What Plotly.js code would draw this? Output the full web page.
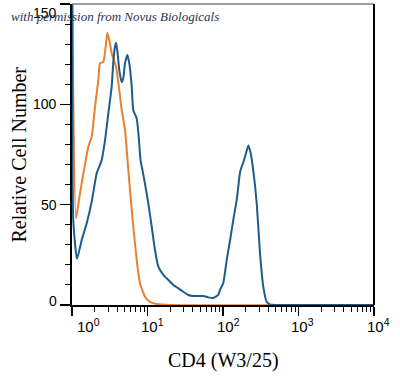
<!DOCTYPE html>
<html>
<head>
<meta charset="utf-8">
<script src="https://cdn.plot.ly/plotly-3.0.1.min.js"></script>
<style>html,body{margin:0;padding:0;background:#fff;}#chart{width:400px;height:376px;}</style>
</head>
<body>
<div id="chart"></div>
<script>
// CD4 (W3/25) fluorescence, stained sample (blue)
const blueX = [1.01, 1.04, 1.165, 1.345, 1.566, 1.824, 2.124, 2.473, 2.735, 3.027, 3.355, 3.524, 3.71, 3.827, 3.98, 4.232, 4.55, 4.778, 5.035, 5.4, 5.74, 6.18, 6.486, 7.194, 7.6, 8.1, 8.6, 9.3, 10.25, 11.37, 12.57, 13.9, 16.2, 18.86, 21.97, 25.6, 29.8, 34.7, 40.4, 54.8, 63.9, 74.4, 86.6, 91.2, 100.9, 111.9, 123.8, 136.8, 151.8, 168, 177, 185.7, 201.7, 216.4, 232.8, 251.9, 279.2, 309, 342, 379, 419.4, 1000, 10000];
const blueY = [150, 42, 23, 32.4, 40.7, 51.5, 65.6, 72.2, 82, 95.5, 108.8, 121, 128.7, 130.7, 127, 117, 111, 113, 120.4, 124.6, 120.4, 108.8, 97, 93, 85, 72, 67, 60, 50.7, 39, 27.4, 19.1, 15, 12.5, 10, 8.3, 6.6, 5, 4.5, 4.5, 3.8, 3.5, 5, 7.5, 11, 22.4, 32, 42.4, 52.3, 66, 69, 71, 75.6, 79.5, 75.6, 67, 51, 26, 9, 1.6, 0.3, 0, 0];
// isotype control (orange)
const orangeX = [1.01, 1.13, 1.276, 1.442, 1.644, 1.824, 2.018, 2.23, 2.35, 2.6, 2.793, 2.935, 3.185, 3.355, 3.828, 4.232, 4.55, 5.035, 5.572, 5.86, 6.486, 7.194, 7.96, 9.27, 10.79, 13.24, 19.9, 10000];
const orangeY = [150, 43.2, 55.7, 67.3, 78.9, 83.9, 98.8, 112, 120.4, 121.2, 128.7, 135.7, 130.3, 125.4, 118.7, 107, 97.2, 87.2, 67.3, 57.3, 39, 22.4, 10.8, 4.1, 1.6, 0.5, 0, 0];

const xTickVals = [1, 10, 100, 1000, 10000];
const xTickText = ['10<sup>0</sup>', '10<sup>1</sup>', '10<sup>2</sup>', '10<sup>3</sup>', '10<sup>4</sup>'];
const yTickVals = [0, 50, 100, 150];
const yTickText = ['0', '50', '100', '150'];

const xLabelShift = [16, 5, 5, 4, 4];
const yLabelShift = [4, 0, 0, -9];

const xTickFont = {family: 'Liberation Sans, Arial, sans-serif', size: 15, color: '#000'};
const yTickFont = {family: 'Liberation Sans, Arial, sans-serif', size: 14, color: '#000'};
const titleFont = {family: 'Liberation Serif, Times New Roman, serif', size: 20, color: '#000'};

const annotations = [];
xTickVals.forEach((v, i) => {
  annotations.push({xref: 'x', yref: 'paper', x: Math.log10(v), y: 0, yanchor: 'top', xanchor: 'center',
    xshift: xLabelShift[i], yshift: -9, text: xTickText[i], showarrow: false, font: xTickFont});
});
yTickVals.forEach((v, i) => {
  annotations.push({xref: 'paper', yref: 'y', x: 0, y: v, xanchor: 'right', yanchor: 'middle',
    xshift: -13, yshift: yLabelShift[i], text: yTickText[i], showarrow: false, font: yTickFont});
});
annotations.push({xref: 'paper', yref: 'paper', x: 0.5, y: 0, yanchor: 'top', xanchor: 'center', yshift: -42,
  text: 'CD4 (W3/25)', showarrow: false, font: titleFont});
annotations.push({xref: 'paper', yref: 'paper', x: 0, y: 0.5, xanchor: 'center', yanchor: 'middle', xshift: -54,
  textangle: -90, text: 'Relative Cell Number', showarrow: false, font: titleFont});
annotations.push({xref: 'paper', yref: 'paper', x: 0, y: 1, xanchor: 'left', yanchor: 'middle', xshift: -63, yshift: -12,
  text: '<i>with permission from Novus Biologicals</i>', showarrow: false,
  font: {family: 'Liberation Serif, serif', size: 13, color: '#2b3350'}});

const traces = [
  {x: orangeX, y: orangeY, type: 'scatter', mode: 'lines', line: {color: '#e8812f', width: 2, shape: 'spline', smoothing: 0.5}, cliponaxis: true, hoverinfo: 'skip'},
  {x: blueX, y: blueY, type: 'scatter', mode: 'lines', line: {color: '#1c5d8c', width: 2, shape: 'spline', smoothing: 0.5}, cliponaxis: true, hoverinfo: 'skip'}
];

const layout = {
  width: 400, height: 376,
  margin: {l: 72, r: 26, t: 4, b: 71},
  paper_bgcolor: '#fff', plot_bgcolor: '#fff',
  showlegend: false,
  xaxis: {type: 'log', range: [0, 4], showgrid: false, zeroline: false,
    showline: true, linecolor: '#000', linewidth: 2,
    tickmode: 'array', tickvals: xTickVals, showticklabels: false,
    ticks: 'outside', ticklen: 9, tickwidth: 1.5, tickcolor: '#000',
    minor: {dtick: 'D1', ticks: 'outside', ticklen: 5, tickwidth: 1, tickcolor: '#000', showgrid: false}},
  yaxis: {range: [0, 150], showgrid: false, zeroline: false,
    showline: true, linecolor: '#000', linewidth: 2,
    tickmode: 'array', tickvals: yTickVals, showticklabels: false,
    ticks: 'outside', ticklen: 10, tickwidth: 1.5, tickcolor: '#000',
    minor: {dtick: 10, ticks: 'outside', ticklen: 5, tickwidth: 1, tickcolor: '#000', showgrid: false}},
  shapes: [
    {type: 'line', xref: 'paper', yref: 'paper', x0: 0, x1: 1, y0: 1, y1: 1, line: {color: '#808080', width: 1.5}},
    {type: 'line', xref: 'paper', yref: 'paper', x0: 1, x1: 1, y0: 0, y1: 1, line: {color: '#000', width: 2}}
  ],
  annotations: annotations
};

Plotly.newPlot('chart', traces, layout, {staticPlot: true, displayModeBar: false});
</script>
</body>
</html>
